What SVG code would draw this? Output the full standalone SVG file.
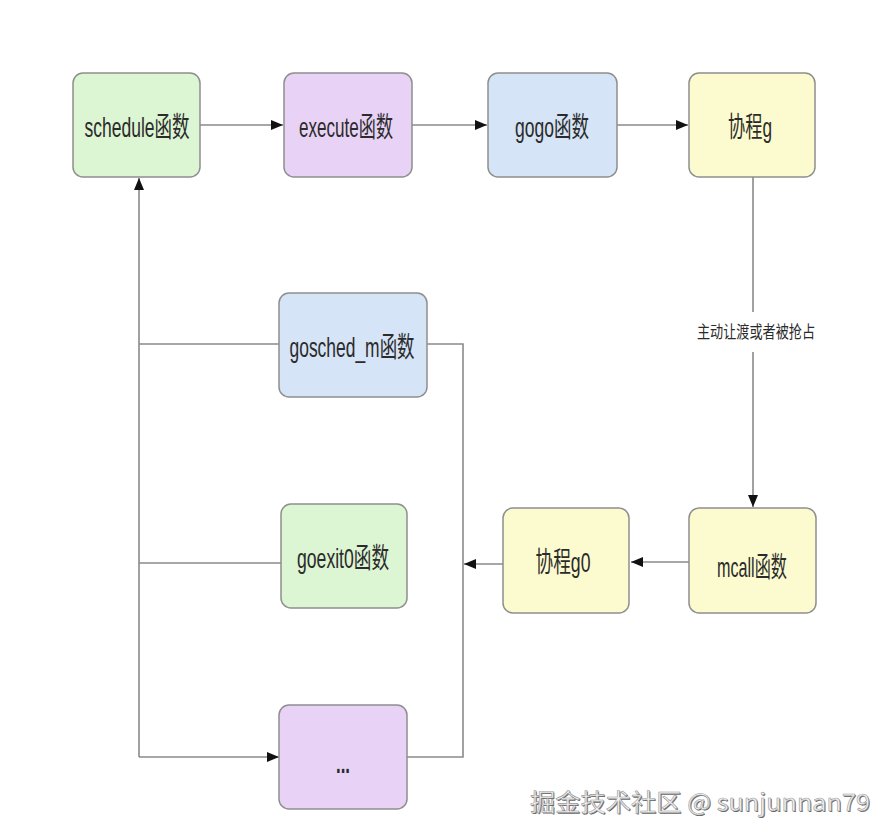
<svg xmlns="http://www.w3.org/2000/svg" width="896" height="840" viewBox="0 0 896 840">
  <style>
    .box { stroke: #8f8f8f; stroke-width: 1.5; }
    .green { fill: #dcf5d3; }
    .purple { fill: #e8d3f6; }
    .blue { fill: #d5e4f6; }
    .yellow { fill: #fbfbcf; }
    .lbl { font-family: "Liberation Sans", "Noto Sans CJK SC", sans-serif; font-size: 28px; fill: #2b2b2b; text-anchor: middle; }
    .edge { stroke: #8a8a8a; stroke-width: 1.6; fill: none; }
    .elbl { font-family: "Liberation Sans", "Noto Sans CJK SC", sans-serif; font-size: 17px; fill: #2b2b2b; text-anchor: middle; }
    .wm { font-family: "Noto Sans CJK SC", "Liberation Sans", sans-serif; font-size: 24px; }
  </style>
  <defs>
    <marker id="arr" viewBox="0 0 12 10" refX="12" refY="5" markerWidth="12" markerHeight="10" markerUnits="userSpaceOnUse" orient="auto">
      <path d="M0,0 L12,5 L0,10 Z" fill="#111"/>
    </marker>
  </defs>
  <rect width="896" height="840" fill="#ffffff"/>

  <g id="connectors">
    <line class="edge" x1="200" y1="125" x2="283" y2="125" marker-end="url(#arr)"/>
    <line class="edge" x1="412" y1="125" x2="487" y2="125" marker-end="url(#arr)"/>
    <line class="edge" x1="617" y1="125" x2="688" y2="125" marker-end="url(#arr)"/>
    <line class="edge" x1="753" y1="177" x2="753" y2="312"/>
    <line class="edge" x1="753" y1="352" x2="753" y2="507" marker-end="url(#arr)"/>
    <text class="elbl" x="756" y="338" textLength="118" lengthAdjust="spacingAndGlyphs">主动让渡或者被抢占</text>
    <line class="edge" x1="689" y1="562" x2="631" y2="562" marker-end="url(#arr)"/>
    <line class="edge" x1="503" y1="564" x2="464" y2="564" marker-end="url(#arr)"/>
    <polyline class="edge" points="427,344 463,344 463,757 407,757"/>
    <line class="edge" x1="139" y1="757" x2="139" y2="178" marker-end="url(#arr)"/>
    <line class="edge" x1="139" y1="344" x2="279" y2="344"/>
    <line class="edge" x1="139" y1="563" x2="281" y2="563"/>
    <line class="edge" x1="139" y1="757" x2="279" y2="757" marker-end="url(#arr)"/>
  </g>

  <g id="schedule">
    <rect class="box green" x="73" y="73" width="127" height="104" rx="10"/>
    <text class="lbl" x="137" y="137" textLength="105" lengthAdjust="spacingAndGlyphs">schedule函数</text>
  </g>
  <g id="execute">
    <rect class="box purple" x="284" y="73" width="128" height="104" rx="10"/>
    <text class="lbl" x="346" y="137" textLength="94" lengthAdjust="spacingAndGlyphs">execute函数</text>
  </g>
  <g id="gogo">
    <rect class="box blue" x="488" y="73" width="129" height="104" rx="10"/>
    <text class="lbl" x="552" y="137" textLength="74" lengthAdjust="spacingAndGlyphs">gogo函数</text>
  </g>
  <g id="g">
    <rect class="box yellow" x="689" y="73" width="126" height="104" rx="10"/>
    <text class="lbl" x="750" y="137" textLength="44" lengthAdjust="spacingAndGlyphs">协程g</text>
  </g>
  <g id="gosched_m">
    <rect class="box blue" x="279" y="293" width="148" height="104" rx="10"/>
    <text class="lbl" x="352" y="357" textLength="125" lengthAdjust="spacingAndGlyphs">gosched_m函数</text>
  </g>
  <g id="goexit0">
    <rect class="box green" x="281" y="504" width="126" height="104" rx="10"/>
    <text class="lbl" x="343" y="568" textLength="92" lengthAdjust="spacingAndGlyphs">goexit0函数</text>
  </g>
  <g id="g0">
    <rect class="box yellow" x="503" y="508" width="126" height="105" rx="10"/>
    <text class="lbl" x="563" y="572" textLength="55" lengthAdjust="spacingAndGlyphs">协程g0</text>
  </g>
  <g id="mcall">
    <rect class="box yellow" x="689" y="508" width="127" height="105" rx="10"/>
    <text class="lbl" x="752" y="577" textLength="70" lengthAdjust="spacingAndGlyphs">mcall函数</text>
  </g>
  <g id="more">
    <rect class="box purple" x="279" y="705" width="128" height="104" rx="10"/>
    <text class="lbl" x="343" y="773" font-size="22" font-weight="bold" textLength="14" lengthAdjust="spacingAndGlyphs">...</text>
  </g>

  <g id="watermark">
    <text class="wm" x="531" y="812" fill="#666" textLength="340" lengthAdjust="spacingAndGlyphs">掘金技术社区 @ sunjunnan79</text>
    <text class="wm" x="530" y="811" fill="#f2f2f2" stroke="#9a9a9a" stroke-width="0.6" textLength="340" lengthAdjust="spacingAndGlyphs">掘金技术社区 @ sunjunnan79</text>
  </g>
</svg>
